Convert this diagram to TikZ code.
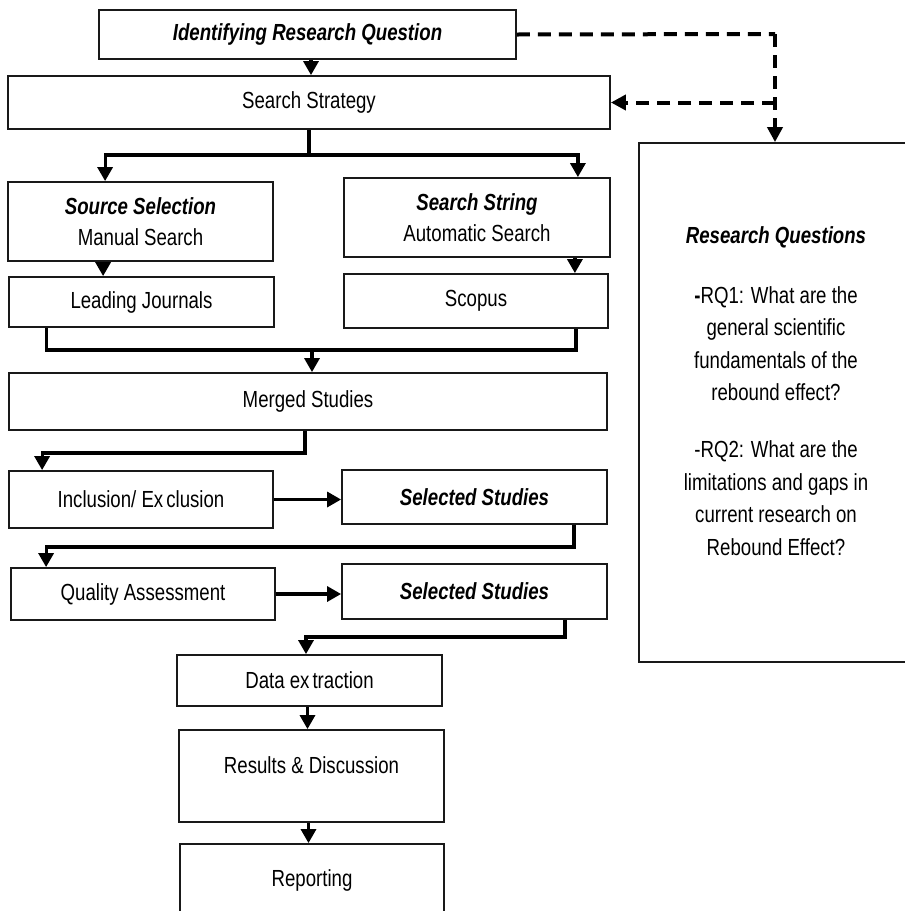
\documentclass[tikz,border=0pt]{standalone}
\usepackage{fontspec}
\setmainfont{Liberation Sans}[FakeStretch=0.8]
\usetikzlibrary{arrows.meta,calc}
\begin{document}
\begin{tikzpicture}[x=1pt,y=-1pt,
  box/.style={draw=black!90, line width=1.8pt, inner sep=0pt, align=center,
    font={\fontsize{23.3}{31.5}\selectfont}},
  txt/.style={inner sep=0pt, align=center, font={\fontsize{23.3}{31.5}\selectfont}},
  conn/.style={line width=3.2pt, line cap=butt, line join=miter},
  connarr/.style={conn, -{Triangle[width=15pt,length=14pt]}},
  dashline/.style={line width=4pt, dash pattern=on 13pt off 8pt},
  dasharr/.style={dashline, -{Triangle[width=15pt,length=15pt]}},
  bi/.style={font={\fontsize{23.3}{31.5}\selectfont\bfseries\itshape}}]
\useasboundingbox (0,0) rectangle (905,911);
\fill[white] (0,0) rectangle (905,911);
\clip (0,0) rectangle (905,911);

% boxes
\node[box, bi, minimum width=417pt, minimum height=49pt] (irq) at (307.5,34.5) {Identifying Research Question};
\node[box, minimum width=602pt, minimum height=53pt] (ss) at (309,102.5) {Search Strategy};
\node[box, minimum width=265pt, minimum height=79pt] (sel) at (140.5,221.5) {\textbf{\textit{Source Selection}}\\Manual Search};
\node[box, minimum width=266pt, minimum height=79pt] (str) at (477,217.5) {\textbf{\textit{Search String}}\\Automatic Search};
\node[box, minimum width=265pt, minimum height=50pt] (lj) at (141.5,302) {Leading Journals};
\node[box, minimum width=264pt, minimum height=54pt] (sco) at (476,301) {Scopus};
\node[box, minimum width=598pt, minimum height=57pt] (mer) at (308,401.5) {Merged Studies};
\node[box, minimum width=264pt, minimum height=57pt] (inc) at (141,499.5) {Inclusion/ Ex\kern3pt clusion};
\node[box, bi, minimum width=265pt, minimum height=54pt] (s1) at (474.5,497) {Selected Studies};
\node[box, minimum width=264pt, minimum height=52pt] (qa) at (143,594) {Quality Assessment};
\node[box, bi, minimum width=265pt, minimum height=55pt] (s2) at (474.5,591.5) {Selected Studies};
\node[box, minimum width=265pt, minimum height=51pt] (de) at (309.5,680.5) {Data ex\kern3pt traction};
\node[box, minimum width=265pt, minimum height=92pt] (res) at (311.5,776) {};
\node[txt] (restxt) at (311.5,765) {Results \& Discussion};
\node[box, minimum width=264pt, minimum height=73pt] (rep) at (312,880.5) {Reporting};
\node[box, minimum width=274pt, minimum height=519pt] (rq) at (776,402.5) {};
\node[txt, font={\fontsize{23.3}{32.5}\selectfont}] (rqtxt) at (776,391)
  {\textbf{\textit{Research Questions}}\\[27.5pt]
   \textbf{-}RQ1: What are the\\general scientific\\fundamentals of the\\rebound effect?\\[24.5pt]
   -RQ2: What are the\\limitations and gaps in\\current research on\\Rebound Effect?};

% solid connectors
\draw[connarr] ([xshift=3.5pt]irq.south) -- ([xshift=3.5pt]irq.south |- ss.north);
\coordinate (b) at (309,155);
\draw[conn] (ss.south) -- (b);
\draw[connarr] (b) -| ([xshift=98pt]sel.north west);
\draw[connarr] (b) -| ([xshift=-33pt]str.north east);
\draw[connarr] ([xshift=96pt]sel.south west) -- ([xshift=96pt]sel.south west |- lj.north);
\draw[connarr] ([xshift=-36pt]str.south east) -- ([xshift=-36pt]str.south east |- sco.north);
\coordinate (mj) at (312,350);
\draw[conn] ([xshift=38pt]lj.south west) |- (mj);
\draw[conn] ([xshift=-33pt]sco.south east) |- (mj);
\draw[connarr] (mj) -- (mj |- mer.north);
\draw[connarr] ([xshift=-3pt]mer.south) -- ++(0,22) -| ([xshift=34pt]inc.north west);
\draw[connarr] (inc.east) -- (inc.east -| s1.west);
\draw[connarr] ([xshift=-34pt]s1.south east) -- ++(0,22) -| ([xshift=36pt]qa.north west);
\draw[connarr] (qa.east) -- (qa.east -| s2.west);
\draw[connarr] ([xshift=-43pt]s2.south east) -- ++(0,17) -| ([xshift=-3.5pt]de.north);
\draw[connarr] ([xshift=-2pt]de.south) -- ([xshift=-2pt]de.south |- res.north);
\draw[connarr] ([xshift=-3pt]res.south) -- ([xshift=-3pt]res.south |- rep.north);

% dashed connectors
\coordinate (dc) at (775,34);
\draw[dashline] (irq.east) -- (dc);
\draw[dasharr] (dc) -- (dc |- rq.north);
\draw[dasharr] (dc |- ss.east) -- (ss.east);
\end{tikzpicture}
\end{document}
